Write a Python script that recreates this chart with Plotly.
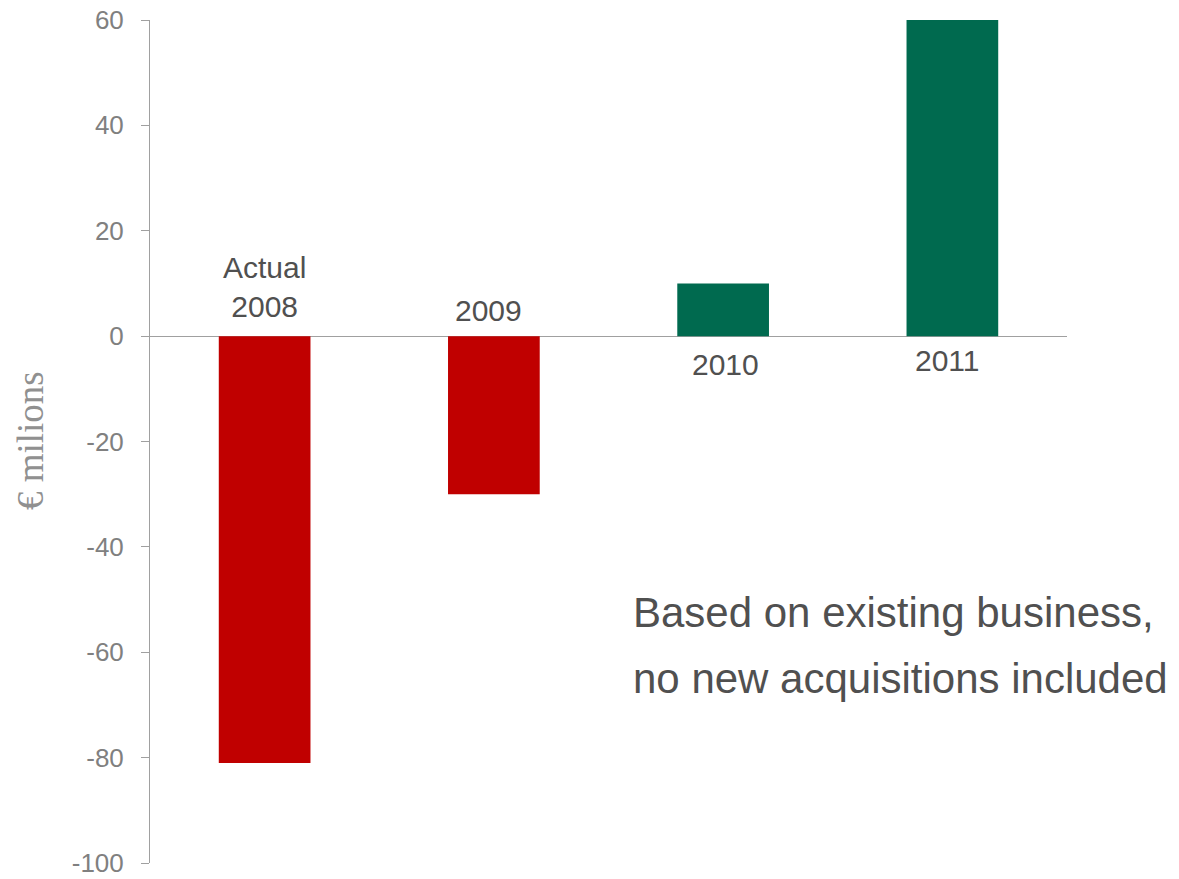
import plotly.graph_objects as go

categories = ["Actual<br>2008", "2009", "2010", "2011"]
values = [-81, -30, 10, 60]
bar_colors = ["#C00000", "#C00000", "#006A4F", "#006A4F"]
tick_vals = [-100, -80, -60, -40, -20, 0, 20, 40, 60]
tick_text = ["-100", "-80", "-60", "-40", "-20", "0", "20", "40", "60"]
note_lines = ["Based on existing business,", "no new acquisitions included"]
y_title = "€ milions"

fig = go.Figure()
fig.add_trace(go.Bar(
    x=categories, y=values,
    marker=dict(color=bar_colors, line=dict(width=0)),
    width=0.4, hoverinfo="skip",
))

# category labels: above zero for negative bars, below zero for positive bars
label_shift = [(0, 11), (-5, 7), (2, -10), (-5, -6)]
for i, (cat, v) in enumerate(zip(categories, values)):
    xs, ys = label_shift[i]
    fig.add_annotation(
        x=i, y=0, xref="x", yref="y", text=cat, showarrow=False,
        yanchor="bottom" if v < 0 else "top",
        xshift=xs, yshift=ys,
        font=dict(family="Liberation Sans, Arial", size=30, color="#505050"),
    )

for i, line in enumerate(note_lines):
    fig.add_annotation(
        x=0.5250, y=0.2975 - i * 0.0783, xref="paper", yref="paper",
        xanchor="left", yanchor="middle", text=line, showarrow=False,
        font=dict(family="Liberation Sans, Arial", size=42, color="#505050"),
    )

fig.add_annotation(
    x=0, y=0.5006, xref="paper", yref="paper", xshift=-119,
    xanchor="center", yanchor="middle", textangle=-90, text=y_title, showarrow=False,
    font=dict(family="Liberation Serif, Times New Roman", size=37, color="#909090"),
)

fig.update_layout(
    width=1179, height=879,
    margin=dict(l=150, r=112, t=20, b=16),
    paper_bgcolor="white", plot_bgcolor="white",
    showlegend=False, hovermode=False, dragmode=False,
    xaxis=dict(type="category", range=[-0.5, 3.5], showticklabels=False, showgrid=False,
               ticks="", showline=False, zeroline=False, automargin=False, fixedrange=True),
    yaxis=dict(range=[-100, 60], tickvals=tick_vals, ticktext=tick_text, showgrid=False,
               showline=True, linecolor="#A0A0A0", linewidth=1,
               ticks="outside", ticklen=8, tickcolor="#A0A0A0",
               zeroline=True, zerolinecolor="#A0A0A0", zerolinewidth=1,
               automargin=False, ticklabelstandoff=12, ticklabeloverflow="allow",
               fixedrange=True,
               tickfont=dict(family="Liberation Sans, Arial", size=26, color="#808080")),
)

fig.write_html("out.html",
               config={"displayModeBar": False, "staticPlot": True},
               post_script="document.body.style.margin='0';document.body.style.overflow='hidden';")
